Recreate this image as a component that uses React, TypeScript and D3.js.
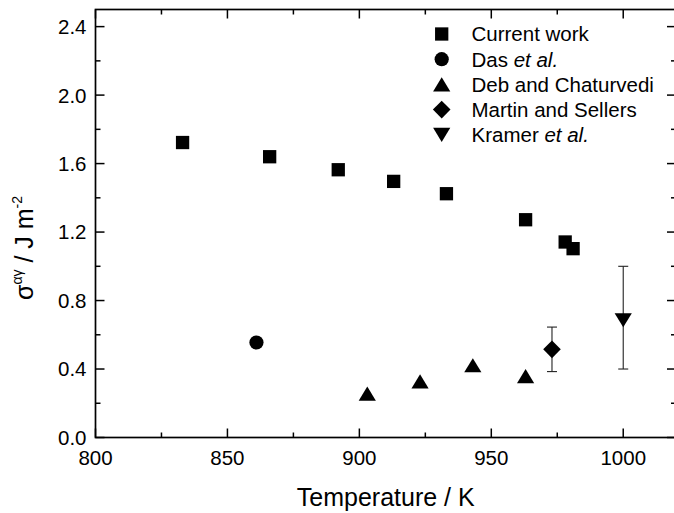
import React from 'react';
import * as d3 from 'd3';

// ---- data ----
const currentT = [833, 866, 892, 913, 933, 963, 978, 981];
const currentS = [1.723, 1.64, 1.564, 1.496, 1.424, 1.272, 1.142, 1.103];
const dasT = [861];
const dasS = [0.555];
const debT = [903, 923, 943, 963];
const debS = [0.256, 0.328, 0.422, 0.359];
const martinT = [973];
const martinS = [0.515];
const martinLo = [0.385];
const martinHi = [0.645];
const kramerT = [1000];
const kramerS = [0.685];
const kramerLo = [0.4];
const kramerHi = [1.0];

const xMajor = [800, 850, 900, 950, 1000];
const xMinor = [825, 875, 925, 975];
const yMajor = [0, 0.4, 0.8, 1.2, 1.6, 2.0, 2.4];
const yMinor = [0.2, 0.6, 1.0, 1.4, 1.8, 2.2];

const W = 674;
const H = 513;
const FONT = '"Liberation Sans", Arial, Helvetica, sans-serif';

const x = d3.scaleLinear().domain([800, 1020]).range([95.5, 676]);
const y = d3.scaleLinear().domain([0, 2.5]).range([437.5, 9.5]);

type Shape = 'square' | 'circle' | 'up' | 'diamond' | 'down';

function markerPath(shape: Shape): string {
  switch (shape) {
    case 'square': {
      const s = 13.3;
      const h = s / 2;
      return `M${-h},${-h}h${s}v${s}h${-s}Z`;
    }
    case 'circle':
      return d3.symbol(d3.symbolCircle, Math.PI * 7.1 * 7.1)() as string;
    case 'up': {
      const w = 17.2, h = 14.2;
      return `M0,${-h / 2}L${w / 2},${h / 2}L${-w / 2},${h / 2}Z`;
    }
    case 'down': {
      const w = 17.2, h = 14.2;
      return `M0,${h / 2}L${w / 2},${-h / 2}L${-w / 2},${-h / 2}Z`;
    }
    case 'diamond': {
      const r = 8.8;
      return `M0,${-r}L${r},0L0,${r}L${-r},0Z`;
    }
  }
}

const legendItems: { shape: Shape; label: string; italic?: string }[] = [
  { shape: 'square', label: 'Current work' },
  { shape: 'circle', label: 'Das ', italic: 'et al.' },
  { shape: 'up', label: 'Deb and Chaturvedi' },
  { shape: 'diamond', label: 'Martin and Sellers' },
  { shape: 'down', label: 'Kramer ', italic: 'et al.' },
];

function Markers({ xs, ys, shape }: { xs: number[]; ys: number[]; shape: Shape }) {
  const d = markerPath(shape);
  return (
    <g>
      {xs.map((t, i) => (
        <path key={i} d={d} transform={`translate(${x(t)},${y(ys[i])})`} fill="#000" />
      ))}
    </g>
  );
}

function ErrorBars({ xs, lo, hi }: { xs: number[]; lo: number[]; hi: number[] }) {
  const cap = 5;
  return (
    <g stroke="#222" strokeWidth={1.1}>
      {xs.map((t, i) => (
        <g key={i}>
          <line x1={x(t)} x2={x(t)} y1={y(lo[i])} y2={y(hi[i])} />
          <line x1={x(t) - cap} x2={x(t) + cap} y1={y(lo[i])} y2={y(lo[i])} />
          <line x1={x(t) - cap} x2={x(t) + cap} y1={y(hi[i])} y2={y(hi[i])} />
        </g>
      ))}
    </g>
  );
}

export default function App() {
  const [x0, x1] = x.range();
  const [y0, y1] = y.range();
  const maj = 9;
  const min = 5;
  const legX = 441.7;
  const legTextX = 471.5;
  const legY0 = 34;
  const legDy = 25.2;

  return (
    <svg
      width={W}
      height={H}
      style={{ position: 'absolute', left: 0, top: 0, background: '#fff' }}
      fontFamily={FONT}
    >
      <rect x={0} y={0} width={W} height={H} fill="#fff" />
      {/* frame */}
      <g stroke="#000" strokeWidth={1.7} fill="none">
        <rect x={x0} y={y1} width={x1 - x0} height={y0 - y1} />
      </g>
      {/* ticks */}
      <g stroke="#000" strokeWidth={1.5}>
        {xMajor.map((t) => (
          <g key={'xM' + t}>
            <line x1={x(t)} x2={x(t)} y1={y0} y2={y0 - maj} />
            <line x1={x(t)} x2={x(t)} y1={y1} y2={y1 + maj} />
          </g>
        ))}
        {xMinor.map((t) => (
          <g key={'xm' + t}>
            <line x1={x(t)} x2={x(t)} y1={y0} y2={y0 - min} />
            <line x1={x(t)} x2={x(t)} y1={y1} y2={y1 + min} />
          </g>
        ))}
        {yMajor.map((v) => (
          <g key={'yM' + v}>
            <line x1={x0} x2={x0 + maj} y1={y(v)} y2={y(v)} />
            <line x1={x1} x2={x1 - maj} y1={y(v)} y2={y(v)} />
          </g>
        ))}
        {yMinor.map((v) => (
          <g key={'ym' + v}>
            <line x1={x0} x2={x0 + min} y1={y(v)} y2={y(v)} />
            <line x1={x1} x2={x1 - min} y1={y(v)} y2={y(v)} />
          </g>
        ))}
      </g>
      {/* tick labels */}
      <g fontSize={20.5} fill="#000">
        {xMajor.map((t) => (
          <text key={'xl' + t} x={x(t)} y={465} textAnchor="middle">
            {t}
          </text>
        ))}
        {yMajor.map((v) => (
          <text key={'yl' + v} x={86.5} y={y(v) + 7.4} textAnchor="end">
            {v.toFixed(1)}
          </text>
        ))}
      </g>
      {/* axis titles */}
      <text x={(x0 + x1) / 2} y={506} textAnchor="middle" fontSize={25} fill="#000">
        Temperature / K
      </text>
      <text transform="translate(33,248) rotate(-90)" textAnchor="middle" fontSize={25} fill="#000">
        σ
        <tspan fontSize={14} dy={-11}>αγ</tspan>
        <tspan dy={11}> / J m</tspan>
        <tspan fontSize={14} dy={-11}>-2</tspan>
      </text>

      {/* data */}
      <ErrorBars xs={martinT} lo={martinLo} hi={martinHi} />
      <ErrorBars xs={kramerT} lo={kramerLo} hi={kramerHi} />
      <Markers xs={currentT} ys={currentS} shape="square" />
      <Markers xs={dasT} ys={dasS} shape="circle" />
      <Markers xs={debT} ys={debS} shape="up" />
      <Markers xs={martinT} ys={martinS} shape="diamond" />
      <Markers xs={kramerT} ys={kramerS} shape="down" />

      {/* legend */}
      <g fontSize={20.5} fill="#000">
        {legendItems.map((it, i) => {
          const cy = legY0 + i * legDy;
          return (
            <g key={it.label}>
              <path d={markerPath(it.shape)} transform={`translate(${legX},${cy})`} fill="#000" />
              <text x={legTextX} y={cy + 7.4}>
                {it.label}
                {it.italic ? <tspan fontStyle="italic">{it.italic}</tspan> : null}
              </text>
            </g>
          );
        })}
      </g>
    </svg>
  );
}
